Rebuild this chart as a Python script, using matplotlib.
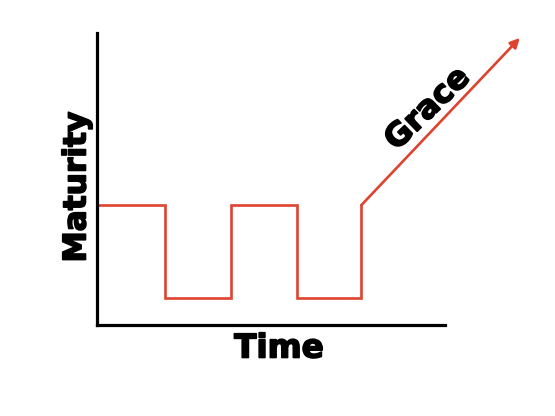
import matplotlib
matplotlib.use("Agg")
import matplotlib.pyplot as plt
import matplotlib.patheffects as pe

# Data (axis units: x 0..10, y 0..10)
time = [0, 1.95, 1.95, 3.85, 3.85, 5.75, 5.75, 7.6, 7.6]
maturity = [4.11, 4.11, 0.92, 0.92, 4.11, 4.11, 0.92, 0.92, 4.11]
grace_start = (7.6, 4.11)
grace_end = (12.15, 9.83)

RED = "#DE432F"
W, H = 555, 416
fig = plt.figure(figsize=(W / 100, H / 100), dpi=100)
ax = fig.add_axes([97 / W, (H - 325) / H, (445 - 97) / W, (325 - 33) / H])
ax.set_xlim(0, 10)
ax.set_ylim(0, 10)
for s in ["top", "right"]:
    ax.spines[s].set_visible(False)
for s in ["left", "bottom"]:
    ax.spines[s].set_linewidth(2.3)
    ax.spines[s].set_color("black")
ax.set_xticks([])
ax.set_yticks([])

ax.plot(time, maturity, color=RED, lw=1.9, solid_joinstyle="miter", clip_on=False)
ax.annotate("", xy=grace_end, xytext=grace_start, annotation_clip=False,
            arrowprops=dict(arrowstyle="-|>", color=RED, lw=1.9, mutation_scale=14,
                            shrinkA=0, shrinkB=0))

heavy = [pe.withStroke(linewidth=1.2, foreground="black")]
fig.text(77 / W, 1 - 187 / H, "Maturity", rotation=90, fontsize=22.5, fontweight="bold",
         ha="center", va="center", family="DejaVu Sans", path_effects=heavy)
fig.text(279 / W, 1 - 348 / H, "Time", fontsize=23.5, fontweight="bold",
         ha="center", va="center", family="DejaVu Sans", path_effects=heavy)
fig.text(428 / W, 1 - 109 / H, "Grace", rotation=44, fontsize=23, fontweight="bold",
         ha="center", va="center", family="DejaVu Sans", rotation_mode="anchor",
         path_effects=heavy)

fig.savefig("out.png", dpi=100)
